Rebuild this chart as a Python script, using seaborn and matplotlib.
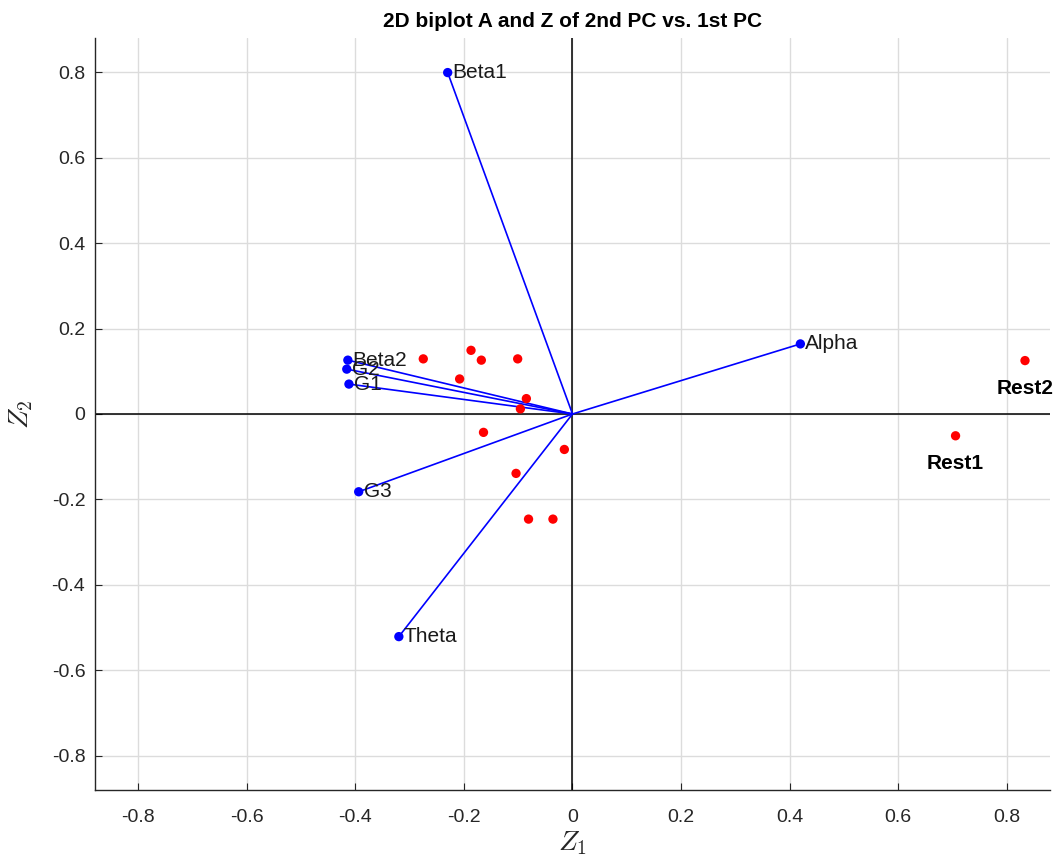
import matplotlib
matplotlib.use("Agg")
import matplotlib.pyplot as plt
import seaborn as sns
import pandas as pd
from matplotlib.ticker import FixedLocator, FuncFormatter

# Loadings (vectors)
var_names = ["Beta1", "Alpha", "Beta2", "G2", "G1", "G3", "Theta"]
var_z1 = [-0.230, 0.420, -0.414, -0.416, -0.412, -0.394, -0.320]
var_z2 = [0.799, 0.164, 0.126, 0.105, 0.070, -0.182, -0.521]

# Scores (observations)
obs_z1 = [-0.275, -0.187, -0.168, -0.101, -0.208, -0.085, -0.096, -0.164,
          -0.015, -0.104, -0.081, -0.036, 0.834, 0.706]
obs_z2 = [0.129, 0.149, 0.126, 0.129, 0.082, 0.036, 0.012, -0.043,
          -0.083, -0.139, -0.246, -0.246, 0.125, -0.051]
obs_labels = ["", "", "", "", "", "", "", "", "", "", "", "", "Rest2", "Rest1"]

ticks = [-0.8, -0.6, -0.4, -0.2, 0, 0.2, 0.4, 0.6, 0.8]

sns.set_theme(style="white")
plt.rcParams['font.family'] = ['Liberation Sans', 'DejaVu Sans']
plt.rcParams['axes.unicode_minus'] = False
plt.rcParams['mathtext.fontset'] = 'cm'

fig = plt.figure(figsize=(10.58, 8.59), dpi=100)
ax = fig.add_axes([0.0898, 0.0803, 0.9026, 0.8755])

lim = 0.88
ax.set_xlim(-lim, lim)
ax.set_ylim(-lim, lim)

ax.grid(True, color="#dcdcdc", linewidth=1.0)
ax.set_axisbelow(True)
ax.axhline(0, color="black", linewidth=1.1, zorder=1)
ax.axvline(0, color="black", linewidth=1.1, zorder=1)

vec = pd.DataFrame({"name": var_names, "z1": var_z1, "z2": var_z2})
obs = pd.DataFrame({"z1": obs_z1, "z2": obs_z2, "label": obs_labels})

for x, y in zip(vec["z1"], vec["z2"]):
    ax.plot([0, x], [0, y], color="#0000ff", linewidth=1.2, zorder=2)

sns.scatterplot(data=vec, x="z1", y="z2", color="#0000ff", s=45,
                edgecolor="none", ax=ax, zorder=3)
sns.scatterplot(data=obs, x="z1", y="z2", color="#ff0000", s=45,
                edgecolor="none", ax=ax, zorder=3)

for n, x, y in zip(vec["name"], vec["z1"], vec["z2"]):
    ax.annotate(n, (x, y), xytext=(3.5, 0), textcoords="offset points",
                ha="left", va="center", fontsize=15, color="#1a1a1a", zorder=4)

for n, x, y in zip(obs["label"], obs["z1"], obs["z2"]):
    if n:
        ax.annotate(n, (x, y), xytext=(0, -20), textcoords="offset points",
                    ha="center", va="center", fontsize=15, fontweight="bold",
                    color="black", zorder=4)

ax.xaxis.set_major_locator(FixedLocator(ticks))
ax.yaxis.set_major_locator(FixedLocator(ticks))
fmt = FuncFormatter(lambda v, p: "0" if abs(v) < 1e-9 else f"{v:.1f}")
ax.xaxis.set_major_formatter(fmt)
ax.yaxis.set_major_formatter(fmt)

for s in ["top", "right"]:
    ax.spines[s].set_visible(False)
for s in ["left", "bottom"]:
    ax.spines[s].set_color("#262626")
    ax.spines[s].set_linewidth(1.0)

ax.tick_params(axis="both", direction="in", length=5, width=0.8,
               colors="#262626", labelsize=14, pad=14,
               bottom=True, left=True)
ax.tick_params(axis="y", pad=7)

ax.set_xlabel(r"$Z_1$", fontsize=20, color="#262626", labelpad=2)
ax.set_ylabel(r"$Z_2$", fontsize=20, color="#262626", labelpad=12)
ax.set_title("2D biplot A and Z of 2nd PC vs. 1st PC", fontsize=15,
             fontweight="bold", color="black", pad=8)

fig.savefig("out.png", dpi=100)
